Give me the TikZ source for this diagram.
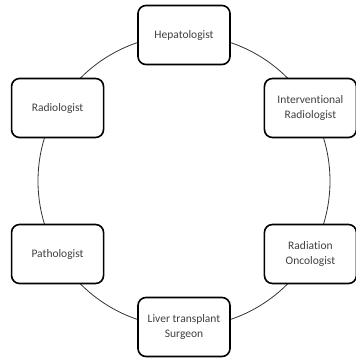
\documentclass[tikz,border=0pt]{standalone}
\usepackage{fontspec}
\setmainfont{Carlito}[Ligatures={NoCommon}]
\tikzset{
  team/.style={draw=black, line width=1.6pt, rounded corners=8pt, fill=white,
    minimum width=92pt, minimum height=59pt, align=center, text=black!75,
    font=\fontsize{11.5}{15}\selectfont},
  ring/.style={draw=black!80, line width=0.8pt}
}
\begin{document}
\begin{tikzpicture}[x=1pt, y=1pt]
    \useasboundingbox (0, 0) rectangle (356, 360);
    \coordinate (mid) at (184, 179);

    % the ring behind the boxes
    \draw[ring] (mid) circle (146);

    \node[team] (hep) at ([shift={(90:146)}]mid) {Hepatologist};
    \node[team] (ir) at ([shift={(30:146)}]mid) {Interventional\\Radiologist};
    \node[team] (ro) at ([shift={(-30:146)}]mid) {Radiation\\Oncologist};
    \node[team] (lts) at ([shift={(-90:146)}]mid) {Liver transplant\\Surgeon};
    \node[team] (path) at ([shift={(210:146)}]mid) {Pathologist};
    \node[team] (rad) at ([shift={(150:146)}]mid) {Radiologist};
\end{tikzpicture}
\end{document}
